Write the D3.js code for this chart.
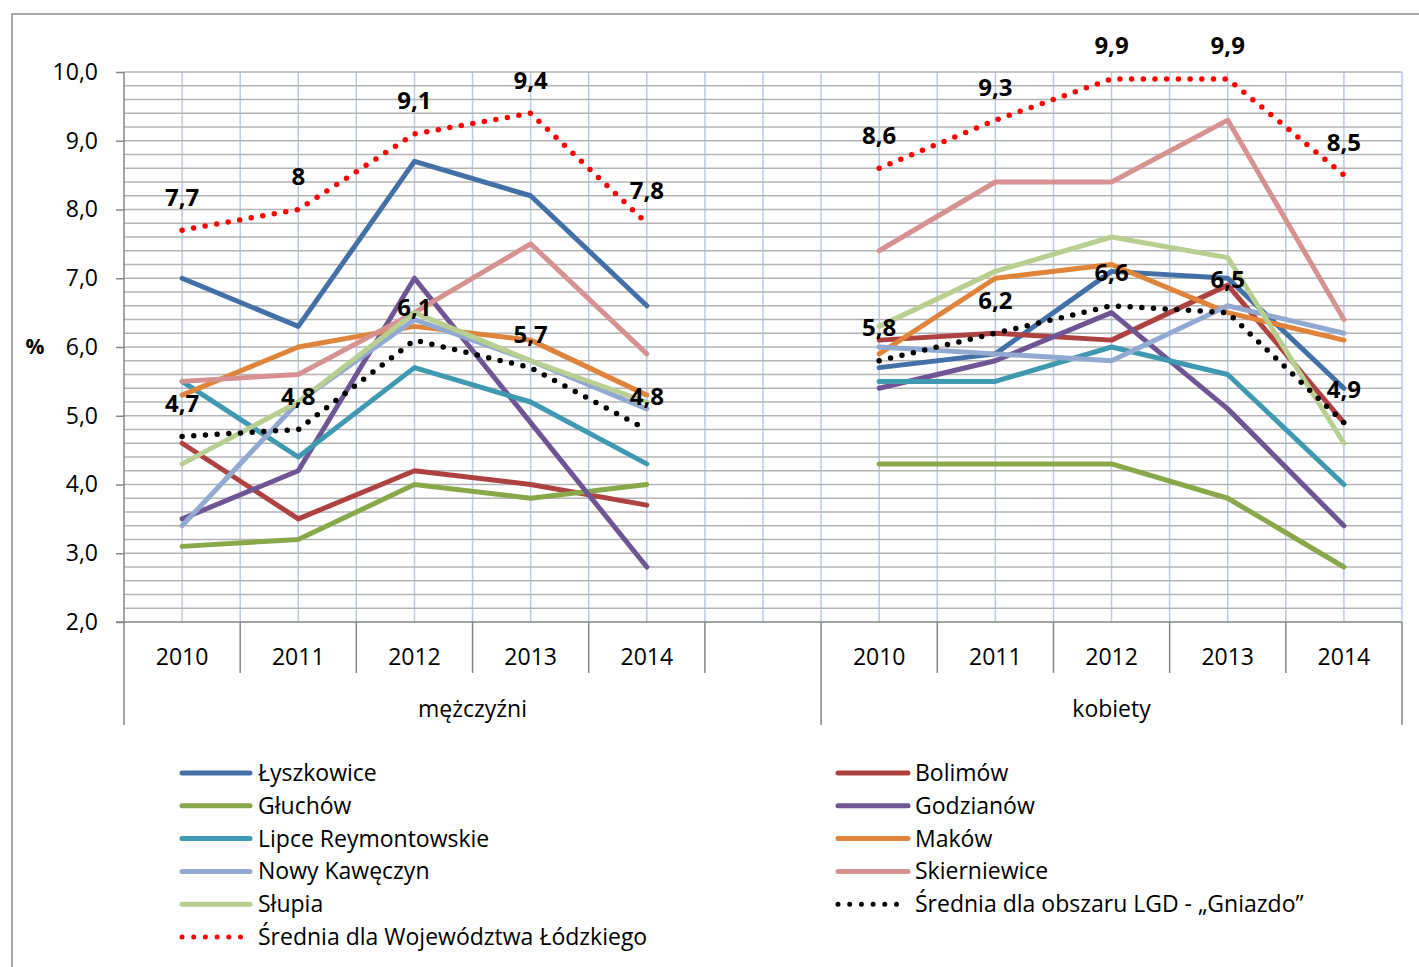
<!DOCTYPE html>
<html>
<head>
<meta charset="utf-8">
<script src="https://cdn.jsdelivr.net/npm/d3@7"></script>
<style>
  html, body { margin: 0; padding: 0; background: #fff; }
  svg { display: block; font-family: "Open Sans", "Noto Sans", sans-serif; }
</style>
</head>
<body>
<svg id="chart" width="1419" height="967"></svg>
<script>
// ---- data ----
const years = ["2010", "2011", "2012", "2013", "2014"];
const groups = ["mężczyźni", "kobiety"];
const yTicks = [2, 3, 4, 5, 6, 7, 8, 9, 10];

// values: 5 for mężczyźni, then 5 for kobiety
const lyszkowice   = [7.0, 6.3, 8.7, 8.2, 6.6, 5.7, 5.9, 7.1, 7.0, 5.4];
const bolimow      = [4.6, 3.5, 4.2, 4.0, 3.7, 6.1, 6.2, 6.1, 6.9, 4.9];
const gluchow      = [3.1, 3.2, 4.0, 3.8, 4.0, 4.3, 4.3, 4.3, 3.8, 2.8];
const godzianow    = [3.5, 4.2, 7.0, 4.9, 2.8, 5.4, 5.8, 6.5, 5.1, 3.4];
const lipce        = [5.5, 4.4, 5.7, 5.2, 4.3, 5.5, 5.5, 6.0, 5.6, 4.0];
const makow        = [5.3, 6.0, 6.3, 6.1, 5.3, 5.9, 7.0, 7.2, 6.5, 6.1];
const nowyKaweczyn = [3.4, 5.2, 6.4, 5.8, 5.1, 6.0, 5.9, 5.8, 6.6, 6.2];
const skierniewice = [5.5, 5.6, 6.5, 7.5, 5.9, 7.4, 8.4, 8.4, 9.3, 6.4];
const slupia       = [4.3, 5.2, 6.5, 5.8, 5.2, 6.3, 7.1, 7.6, 7.3, 4.6];
const sredniaLGD   = [4.7, 4.8, 6.1, 5.7, 4.8, 5.8, 6.2, 6.6, 6.5, 4.9];
const sredniaWoj   = [7.7, 8, 9.1, 9.4, 7.8, 8.6, 9.3, 9.9, 9.9, 8.5];

const seriesNames = ["Łyszkowice", "Bolimów", "Głuchów", "Godzianów", "Lipce Reymontowskie",
  "Maków", "Nowy Kawęczyn", "Skierniewice", "Słupia",
  "Średnia dla obszaru LGD - „Gniazdo”", "Średnia dla Województwa Łódzkiego"];
const seriesValues = [lyszkowice, bolimow, gluchow, godzianow, lipce, makow,
  nowyKaweczyn, skierniewice, slupia, sredniaLGD, sredniaWoj];
const seriesColors = ["#4470a8", "#ae4240", "#88a84a", "#6f5594", "#3f99b0",
  "#df843a", "#92aad2", "#d59290", "#b8cf92", "#000000", "#ff0000"];
const seriesDotted = [false, false, false, false, false, false, false, false, false, true, true];
const seriesLabeled = [false, false, false, false, false, false, false, false, false, true, true];

(function draw() {
const svg = d3.select("#chart");
const pL = 124, pR = 1402, pT = 72, pB = 622;

const slots = [];
years.forEach(yr => slots.push("m|" + yr));
slots.push("m|");
years.forEach(yr => slots.push("k|" + yr));

const x = d3.scaleBand().domain(slots).range([pL, pR]).padding(0);
const bw = x.bandwidth();
const y = d3.scaleLinear().domain([2, 10]).range([pB, pT]);

const pointKeys = years.map(yr => "m|" + yr).concat(years.map(yr => "k|" + yr));
const cx = k => x(k) + bw / 2;

// frame
svg.append("rect").attr("x", 12).attr("y", 14).attr("width", 1440).attr("height", 1000)
  .attr("fill", "none").attr("stroke", "#8c8c8c").attr("stroke-width", 1.5);

// vertical gridlines at each half slot
const vLines = [];
slots.forEach(k => { vLines.push(cx(k)); vLines.push(x(k) + bw); });
svg.append("g").selectAll("line").data(vLines).join("line")
  .attr("x1", d => d).attr("x2", d => d).attr("y1", pT).attr("y2", pB)
  .attr("stroke", "#b7cae8").attr("stroke-width", 1.5);

// horizontal gridlines every 0.2
const hVals = d3.range(11, 51).map(i => i / 5);
svg.append("g").selectAll("line").data(hVals).join("line")
  .attr("x1", pL).attr("x2", pR).attr("y1", d => y(d)).attr("y2", d => y(d))
  .attr("stroke", "#b4b4b4").attr("stroke-width", 1.5);

// y axis
const yAxis = svg.append("g").attr("transform", `translate(${pL},0)`)
  .call(d3.axisLeft(y).tickValues(yTicks).tickSize(8).tickSizeOuter(0)
    .tickFormat(d => d3.format(".1f")(d).replace(".", ",")));
yAxis.select(".domain").attr("stroke", "#868686").attr("stroke-width", 1.5)
  .attr("d", `M0,${pT}V725`);
yAxis.selectAll(".tick line").attr("stroke", "#868686").attr("stroke-width", 1.5);
yAxis.selectAll(".tick text").attr("x", -26).attr("font-size", 23)
  .attr("fill", "#000").attr("font-family", "Open Sans");

svg.append("text").attr("x", 35).attr("y", y(6)).attr("dy", "0.35em")
  .attr("text-anchor", "middle").attr("font-size", 21).attr("font-weight", "bold").text("%");

// x axis line
svg.append("line").attr("x1", pL - 8).attr("x2", pR).attr("y1", pB).attr("y2", pB)
  .attr("stroke", "#868686").attr("stroke-width", 1.5);
// category separators
const sepG = svg.append("g");
slots.forEach((k, i) => {
  const xr = x(k) + bw;
  const isGroupEdge = (i === 5 || i === slots.length - 1);
  sepG.append("line").attr("x1", xr).attr("x2", xr).attr("y1", pB)
    .attr("y2", isGroupEdge ? 725 : 673).attr("stroke", "#868686").attr("stroke-width", 1.5);
});
// year labels
svg.append("g").selectAll("text").data(pointKeys).join("text")
  .attr("x", d => cx(d)).attr("y", 657).attr("dy", "0.35em").attr("text-anchor", "middle")
  .attr("font-size", 23).text(d => d.split("|")[1]);
// group labels
const gMid = [(pL + x("m|") + bw) / 2, (x("k|2010") + pR) / 2];
svg.append("g").selectAll("text").data(groups).join("text")
  .attr("x", (d, i) => gMid[i]).attr("y", 709).attr("dy", "0.35em").attr("text-anchor", "middle")
  .attr("font-size", 23).text(d => d);

// lines
const lineGen = d3.line().x(d => cx(d.k)).y(d => y(d.v));
const seriesData = seriesNames.map((name, i) => ({
  name, color: seriesColors[i], dotted: seriesDotted[i], labeled: seriesLabeled[i],
  values: seriesValues[i]
}));

seriesData.forEach(s => {
  const segs = [s.values.slice(0, 5).map((v, j) => ({ k: pointKeys[j], v })),
                s.values.slice(5).map((v, j) => ({ k: pointKeys[j + 5], v }))];
  segs.forEach(seg => {
    const p = svg.append("path").datum(seg).attr("d", lineGen).attr("fill", "none")
      .attr("stroke", s.color).attr("stroke-linejoin", "round");
    if (s.dotted) {
      p.attr("stroke-width", 5.5).attr("stroke-linecap", "round").attr("stroke-dasharray", "0 11.7");
    } else {
      p.attr("stroke-width", 5).attr("stroke-linecap", "round");
    }
  });
});

// data labels
seriesData.filter(s => s.labeled).forEach(s => {
  svg.append("g").selectAll("text").data(s.values).join("text")
    .attr("x", (d, j) => cx(pointKeys[j])).attr("y", d => y(d) - 33).attr("dy", "0.35em")
    .attr("text-anchor", "middle").attr("font-size", 24).attr("font-weight", "bold")
    .text(d => String(d).replace(".", ","));
});

// legend (two columns, row-major)
const legCols = [{ sx: 182, ex: 250, tx: 258 }, { sx: 838, ex: 908, tx: 915 }];
const legRowY = r => 773 + r * 32.8;
const leg = svg.append("g");
seriesData.forEach((s, i) => {
  const col = i % 2, row = Math.floor(i / 2);
  const c = legCols[col], yy = legRowY(row);
  const ln = leg.append("line").attr("x1", c.sx).attr("x2", s.dotted ? c.ex - 6 : c.ex)
    .attr("y1", yy).attr("y2", yy).attr("stroke", s.color).attr("stroke-linecap", "round");
  if (s.dotted) ln.attr("stroke-width", 5).attr("stroke-dasharray", "0 11.7");
  else ln.attr("stroke-width", 5);
  leg.append("text").attr("x", c.tx).attr("y", yy).attr("dy", "0.35em")
    .attr("font-size", 23).text(s.name);
});
})();
</script>
</body>
</html>
